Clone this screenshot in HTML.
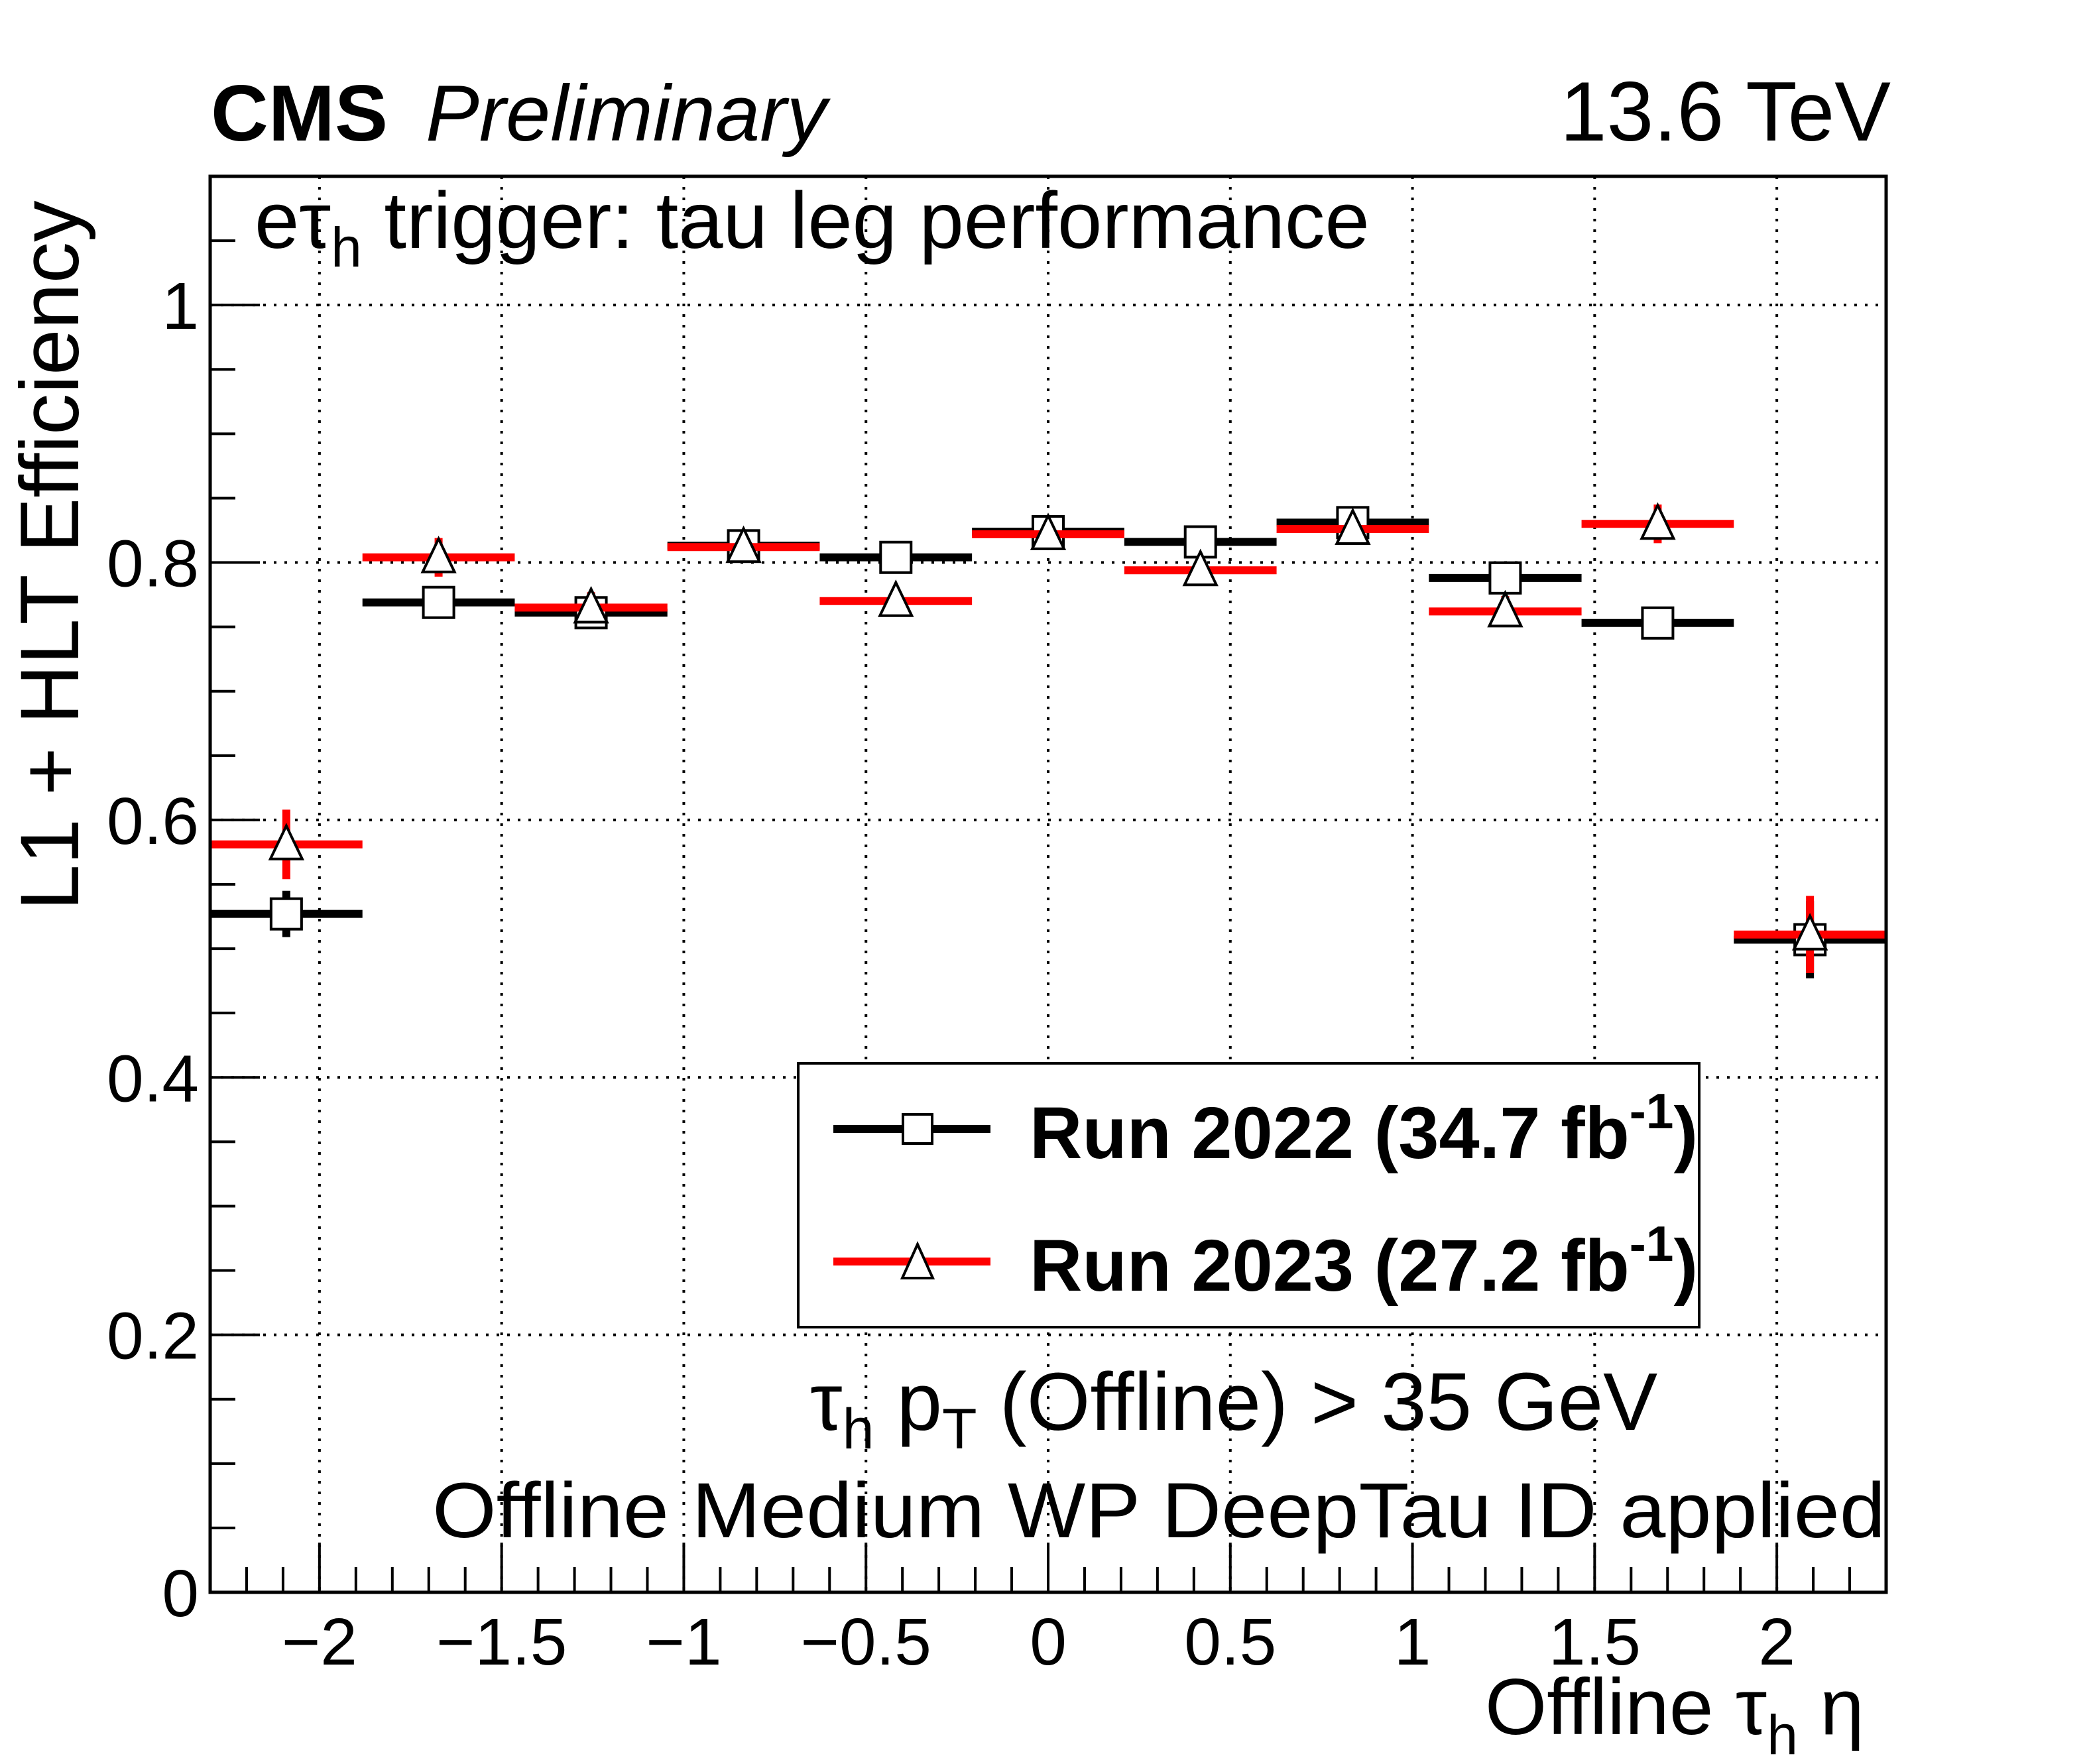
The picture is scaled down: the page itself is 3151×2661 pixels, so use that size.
<!DOCTYPE html>
<html><head><meta charset="utf-8">
<style>
html,body{margin:0;padding:0;background:#fff;}
svg{display:block;}
text{font-family:"Liberation Sans",sans-serif;fill:#000;}
</style></head>
<body>
<svg id="chart" xmlns="http://www.w3.org/2000/svg" width="3151" height="2661" viewBox="0 0 3151 2661">
  <rect width="3151" height="2661" fill="#fff"/>
  <g id="grid"></g>
  <g id="ticks"></g>
  <g id="series"></g>
  <rect x="317" y="266" width="2528" height="2136" fill="none" stroke="#000" stroke-width="5"/>

  <text x="318" y="212" font-size="120" font-weight="bold" textLength="267" lengthAdjust="spacingAndGlyphs">CMS</text>
  <text x="642" y="212" font-size="120" font-style="italic" textLength="605" lengthAdjust="spacingAndGlyphs">Preliminary</text>
  <text x="2852" y="212" font-size="127" text-anchor="end">13.6 TeV</text>
  <text x="384" y="374" font-size="121">eτ<tspan font-size="84" dy="28">h</tspan><tspan dy="-28"> trigger: tau leg performance</tspan></text>
  <text x="1222" y="2157" font-size="123">τ<tspan font-size="86" dy="28">h</tspan><tspan dy="-28"> p</tspan><tspan font-size="86" dy="28">T</tspan><tspan dy="-28"> (Offline) &gt; 35 GeV</tspan></text>
  <text x="652" y="2319" font-size="118" textLength="2192" lengthAdjust="spacingAndGlyphs">Offline Medium WP DeepTau ID applied</text>
  <text x="2812" y="2616" font-size="120" text-anchor="end">Offline τ<tspan font-size="84" dy="30">h</tspan><tspan dy="-30"> η</tspan></text>
  <text transform="translate(118,838) rotate(-90)" font-size="125" text-anchor="middle" textLength="1071" lengthAdjust="spacingAndGlyphs">L1 + HLT Efficiency</text>

  <g>
    <rect x="1204" y="1604" width="1359" height="398" fill="#fff" stroke="#000" stroke-width="4"/>
    <line x1="1257" y1="1703" x2="1494" y2="1703" stroke="#000" stroke-width="12"/>
    <rect x="1362" y="1681" width="44" height="44" fill="#fff" stroke="#000" stroke-width="4"/>
    <text x="1553" y="1747" font-size="110" font-weight="bold">Run 2022 (34.7 fb<tspan font-size="75" dy="-45">-1</tspan><tspan dy="45">)</tspan></text>
    <line x1="1257" y1="1903" x2="1494" y2="1903" stroke="#f00" stroke-width="12"/>
    <polygon points="1384,1877 1361,1928 1407,1928" fill="#fff" stroke="#000" stroke-width="4"/>
    <text x="1553" y="1947" font-size="110" font-weight="bold">Run 2023 (27.2 fb<tspan font-size="75" dy="-45">-1</tspan><tspan dy="45">)</tspan></text>
  </g>
</svg>
<script>
const binEdges = [-2.3,-1.882,-1.464,-1.045,-0.627,-0.209,0.209,0.627,1.045,1.464,1.882,2.3];
const eff2022 = [0.527,0.769,0.761,0.813,0.804,0.824,0.816,0.831,0.788,0.753,0.507];
const err2022 = [0.018,0.008,0.008,0.008,0.008,0.008,0.008,0.008,0.008,0.008,0.03];
const eff2023 = [0.581,0.804,0.765,0.812,0.770,0.822,0.794,0.826,0.762,0.830,0.511];
const err2023 = [0.027,0.015,0.012,0.008,0.008,0.008,0.008,0.008,0.012,0.015,0.03];
const xTickLabels = ["\u22122","\u22121.5","\u22121","\u22120.5","0","0.5","1","1.5","2"];
const xTickValues = [-2,-1.5,-1,-0.5,0,0.5,1,1.5,2];
const yTickLabels = ["0","0.2","0.4","0.6","0.8","1"];
const yTickValues = [0,0.2,0.4,0.6,0.8,1];

const NS = "http://www.w3.org/2000/svg";
const X0 = 317, X1 = 2845, Y0 = 2402, Y1 = 266;
const xMin = -2.3, xMax = 2.3, yMin = 0, yMax = 1.1;
function xs(v){ return X0 + (v - xMin) / (xMax - xMin) * (X1 - X0); }
function ys(v){ return Y0 - (v - yMin) / (yMax - yMin) * (Y0 - Y1); }
function mk(tag, attrs, parent){
  const e = document.createElementNS(NS, tag);
  for (const k in attrs) e.setAttribute(k, attrs[k]);
  parent.appendChild(e);
  return e;
}
const grid = document.getElementById('grid');
const ticks = document.getElementById('ticks');
const series = document.getElementById('series');

xTickValues.forEach((v, i) => {
  const g = mk('line', {x1: xs(v), x2: xs(v), y1: Y1, y2: Y0, stroke: '#000', 'stroke-width': 4, 'stroke-dasharray': '4 12'}, grid);
  
  
  const t = mk('line', {x1: xs(v), x2: xs(v), y1: Y0, y2: Y0 - 75, stroke: '#000', 'stroke-width': 4}, ticks);
  
  
  const l = mk('text', {x: xs(v), y: 2511, 'font-size': 100, 'text-anchor': 'middle'}, ticks);
  l.textContent = xTickLabels[i];
  
  
});
for (let k = -23; k <= 23; k++) {
  const v = k / 10;
  if (Math.abs(k % 5) === 0) continue;
  const t = mk('line', {x1: xs(v), x2: xs(v), y1: Y0, y2: Y0 - 38, stroke: '#000', 'stroke-width': 4}, ticks);
  
  
}
yTickValues.forEach((v, i) => {
  if (v > 0) {
    const g = mk('line', {x1: X0, x2: X1, y1: ys(v), y2: ys(v), stroke: '#000', 'stroke-width': 4, 'stroke-dasharray': '4 12'}, grid);
    
    
  }
  const t = mk('line', {x1: X0, x2: X0 + 75, y1: ys(v), y2: ys(v), stroke: '#000', 'stroke-width': 4}, ticks);
  
  
  const l = mk('text', {x: 300, y: ys(v) + 36, 'font-size': 100, 'text-anchor': 'end'}, ticks);
  l.textContent = yTickLabels[i];
  
  
});
for (let k = 1; k <= 21; k++) {
  if (k % 4 === 0) continue;
  const v = k * 0.05;
  const t = mk('line', {x1: X0, x2: X0 + 38, y1: ys(v), y2: ys(v), stroke: '#000', 'stroke-width': 4}, ticks);
  
  
}

function drawSeries(vals, errs, color, marker, name){
  const g = mk('g', {}, series);
  
  
  vals.forEach((v, i) => {
    const lo = binEdges[i], hi = binEdges[i+1], c = (lo + hi) / 2;
    const h = mk('line', {x1: xs(lo), x2: xs(hi), y1: ys(v), y2: ys(v), stroke: color, 'stroke-width': 12}, g);
    
    
    const e = mk('line', {x1: xs(c), x2: xs(c), y1: ys(v - errs[i]), y2: ys(v + errs[i]), stroke: color, 'stroke-width': 12}, g);
    
    
    let m;
    const cx = xs(c), cy = ys(v);
    if (marker === 'square') {
      m = mk('rect', {x: cx - 23, y: cy - 23, width: 46, height: 46, fill: '#fff', stroke: '#000', 'stroke-width': 4}, g);
    } else {
      m = mk('polygon', {points: `${cx},${cy-28} ${cx-24},${cy+22} ${cx+24},${cy+22}`, fill: '#fff', stroke: '#000', 'stroke-width': 4}, g);
    }
    
    
  });
}
drawSeries(eff2022, err2022, '#000', 'square', 'run2022');
drawSeries(eff2023, err2023, '#f00', 'triangle', 'run2023');
</script>
</body></html>
